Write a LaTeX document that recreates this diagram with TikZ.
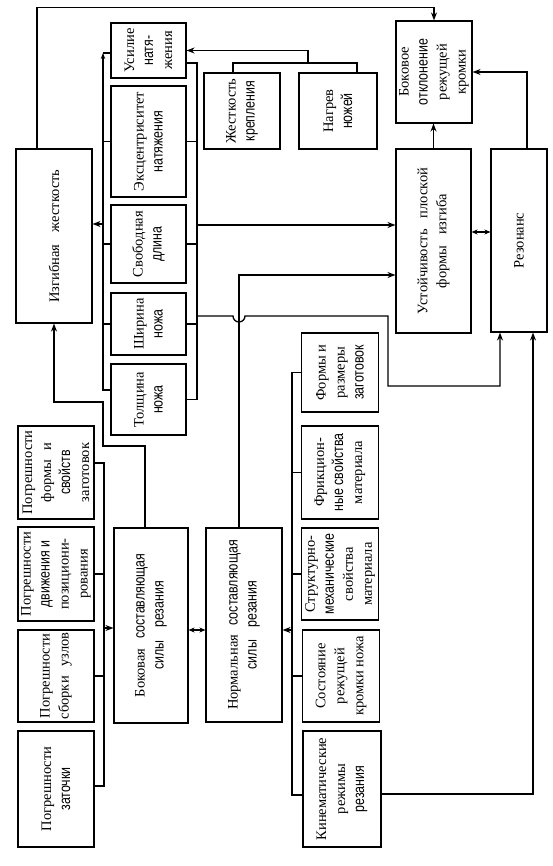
\documentclass[tikz,border=0pt]{standalone}
\usepackage{fontspec}
\setmainfont{Liberation Serif}
\newfontfamily\narfam[FakeStretch=0.8]{Liberation Sans}
\newcommand\nar{\narfam\fontsize{15.5}{19}\selectfont}
\usetikzlibrary{arrows.meta}
\tikzset{
  bx/.style={draw, line width=1.1pt, inner sep=0pt, rectangle},
  lbl/.style={rotate=90, align=center, font=\fontsize{14.5}{19}\selectfont, inner sep=0pt},
  ln/.style={line width=1.3pt},
  arr/.style={ln, -{Stealth[length=8pt,width=6pt]}},
  arrsmall/.style={ln, -{Stealth[length=6pt,width=4.5pt]}},
  darr/.style={ln, {Stealth[length=6pt,width=5pt]}-{Stealth[length=6pt,width=5pt]}},
}
\newcommand\mybox[6]{%
  \node[bx, minimum width=#4pt, minimum height=#5pt] (#1) at (#2,#3) {};
  \node[lbl] (#1-t) at (#1.center) {#6};}
\begin{document}
\begin{tikzpicture}[x=1pt,y=-1pt]
\fill[white] (0,0) rectangle (553,866);
\useasboundingbox (0,0) rectangle (553,866);

% boxes
\mybox{izg}{54}{236}{76}{174}{Изгибная\hspace{0.6em} жесткость}
\mybox{usil}{148.5}{50.5}{75}{55}{Усилие\\\nar натя-\\жения}
\mybox{eksc}{148.5}{141.5}{75}{111}{Эксцентриситет\\\nar натяжения}
\mybox{svob}{148.5}{244}{75}{78}{Свободная\\\nar длина}
\mybox{shir}{148.5}{324}{75}{62}{Ширина\\\nar ножа}
\mybox{tolsh}{148.5}{399.5}{75}{71}{Толщина\\\nar ножа}
\mybox{zhest}{242}{111}{76}{76}{Жесткость\\\nar крепления}
\mybox{nagr}{338}{111}{78}{76}{Нагрев\\\nar ножей}
\mybox{bokotkl}{434}{72}{76}{102}{Боковое\\\nar отклонение\\режущей\\кромки}
\mybox{ustoi}{433.5}{241}{75}{184}{Устойчивость\hspace{0.5em} плоской\\формы\hspace{0.5em} изгиба}
\mybox{rez}{519}{240.5}{56}{183}{Резонанс}
\mybox{pforms}{56}{472.5}{76}{93}{Погрешности\\формы\hspace{0.4em} и\\\nar свойств\\заготовок}
\mybox{pdvizh}{56}{574}{76}{94}{Погрешности\\\nar движения и\\позициони-\\рования}
\mybox{psbor}{56}{676}{76}{92}{Погрешности\\сборки\hspace{0.4em} узлов}
\mybox{pzat}{56}{789}{76}{116}{Погрешности\\\nar заточки}
\mybox{bokov}{151}{625.5}{74}{195}{Боковая\hspace{0.4em} {\nar составляющая}\\\nar силы\hspace{0.6em} резания}
\mybox{norm}{244}{625}{76}{194}{Нормальная\hspace{0.4em} {\nar составляющая}\\\nar силы\hspace{0.6em} резания}
\mybox{formy}{340}{372.5}{77}{79}{Формы и\\размеры\\\nar заготовок}
\mybox{frik}{340}{472.5}{77}{93}{Фрикцион-\\\nar ные свойства\\материала}
\mybox{strukt}{340}{574}{77}{92}{Структурно-\\\nar механические\\свойства\\материала}
\mybox{sost}{341}{676}{77}{92}{Состояние\\режущей\\кромки ножа}
\mybox{kinem}{342}{789}{78}{116}{Кинематические\\режимы\\\nar резания}

% helper coordinates
\coordinate (lbx) at (103,0);
\coordinate (rbx) at (197,0);
\coordinate (pbx) at (104,0);
\coordinate (nbx) at (292,0);
\coordinate (jn) at (308,63);
\coordinate (lt) at (103,53);
\coordinate (o1) at (197,225);
\coordinate (o2) at (197,316);
\coordinate (y275) at (0,275);
\coordinate (izgin) at (0,224);
\coordinate (c446) at (0,446);
\coordinate (c402) at (0,402);
\coordinate (c786) at (0,786);
\coordinate (c628) at (0,628);
\coordinate (c630) at (0,630);
\coordinate (c795) at (0,795);

% top line: izg -> bokotkl
\draw[arr] ([xshift=-17pt]izg.north) |- ([yshift=13pt]bokotkl.north) -- (bokotkl.north);
% ustoi -> bokotkl
\draw[arr] (ustoi.north) -- (ustoi.north |- bokotkl.south);
% rez -> bokotkl
\draw[arr] ([xshift=8pt]rez.north) |- (bokotkl.east);
% ustoi <-> rez
\draw[darr] ([yshift=9pt]ustoi.east) -- ([yshift=9pt]ustoi.east -| rez.west);

% zhest, nagr -> usil
\draw[ln] ([xshift=-9pt]zhest.north) |- ([xshift=19pt]nagr.north |- jn) -- ([xshift=19pt]nagr.north);
\draw[arr] (jn) |- (usil.east);

% right knife bus
\draw[ln] ([yshift=-12.5pt]usil.east) -| (rbx |- tolsh.east) -- (tolsh.east);
\foreach \n in {eksc,svob,shir} \draw[ln] (\n.east) -- (rbx |- \n.east);
\draw[arr] (o1) -- (o1 -| ustoi.west);
\draw[arr] (o2) -- (233,316) arc[start angle=180,end angle=360,radius=6pt] -- (388,316) -- (388,386) -| ([xshift=-19pt]rez.south);

% norm -> ustoi
\draw[arr] ([xshift=-5pt]norm.north) |- (ustoi.west |- y275);

% left knife bus -> izg
\draw[ln] (usil.west |- lt) -- (lt);
\draw[arrsmall] ([yshift=9.5pt]tolsh.west) -| (lt);
\foreach \n in {eksc,svob,shir} \draw[ln] (\n.west) -- (lbx |- \n.west);
\draw[arr] (lbx |- izgin) -- (izg.east |- izgin);

% bokov -> izg
\draw[arr] ([xshift=-6pt]bokov.north) |- (lbx |- c446) |- (izg.south |- c402) -- (izg.south);

% inputs -> bokov
\draw[ln] ([yshift=9.5pt]pforms.east) -| (pbx |- c786) -- ([yshift=3pt]pzat.east);
\draw[ln] (pdvizh.east) -- (pbx |- pdvizh.east);
\draw[ln] (psbor.east) -- (pbx |- psbor.east);
\draw[arr] (pbx |- c628) -- (bokov.west |- c628);

% bokov <-> norm
\draw[darr] (bokov.east |- c630) -- (norm.west |- c630);

% inputs -> norm
\draw[ln] (formy.west) -| (nbx |- c795) -- (kinem.west |- c795);
\foreach \n in {frik,strukt,sost} \draw[ln] (\n.west) -- (nbx |- \n.west);
\draw[arr] (nbx |- c630) -- (norm.east |- c630);

% kinem -> rez
\draw[arr] ([yshift=-5pt]kinem.east) -| ([xshift=14pt]rez.south);
\end{tikzpicture}
\end{document}
